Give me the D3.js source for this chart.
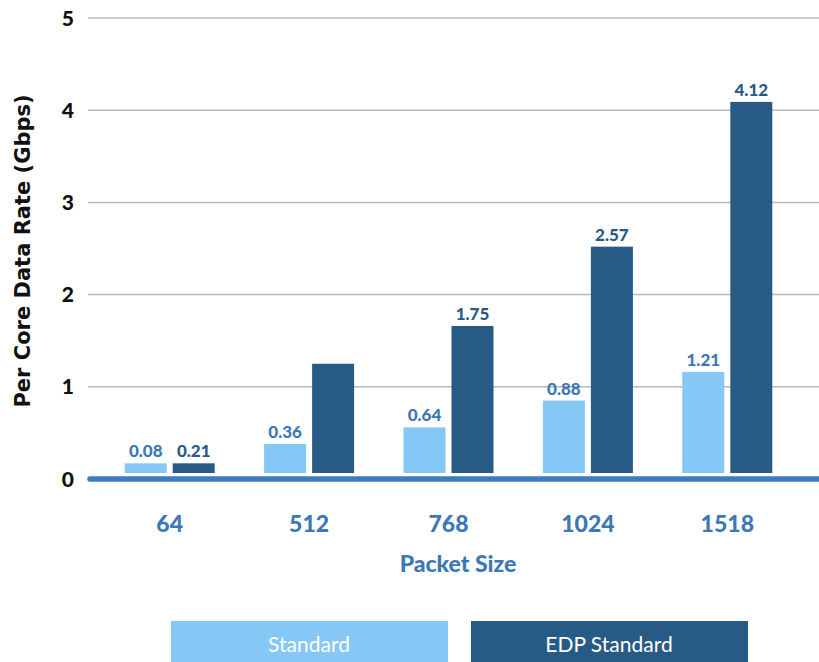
<!DOCTYPE html>
<html lang="en">
    <head>
        <meta charset="UTF-8">
        <title>Per Core Data Rate</title>
        <style>
            body { margin: 0; background: #fff; }
            svg { display: block; }
            .grid line { stroke: #b8b8b8; stroke-width: 1.5px; }
            .ytick { font-family: Lato, sans-serif; font-weight: 900; font-size: 21px; fill: #111; }
            .xtick { font-family: Lato, sans-serif; font-weight: 900; font-size: 23px; fill: #3b78b5; }
            .title { font-family: Lato, sans-serif; font-weight: 900; fill: #3b78b5; }
            .ytitle { font-family: "DejaVu Sans", sans-serif; font-weight: bold; font-size: 21px; fill: #111; }
            .val { font-family: Lato, sans-serif; font-weight: 900; font-size: 17px; }
            .legend text { font-family: Lato, sans-serif; font-size: 21px; fill: #fff; }
        </style>
    </head>
    <body>
        <script src="https://d3js.org/d3.v7.min.js"></script>
        <script>
            // data
            var packetSizes = ["64", "512", "768", "1024", "1518"];
            var seriesNames = ["Standard", "EDP Standard"];
            var standardBars = [0.17, 0.38, 0.56, 0.85, 1.16];
            var edpBars = [0.17, 1.25, 1.66, 2.52, 4.09];
            var standardLabels = ["0.08", "0.36", "0.64", "0.88", "1.21"];
            var edpLabels = ["0.21", "", "1.75", "2.57", "4.12"];
            var yTicks = [0, 1, 2, 3, 4, 5];

            var colors = { "Standard": "#85c7f5", "EDP Standard": "#285a86" };
            var labelColors = { "Standard": "#3b78b5", "EDP Standard": "#285a86" };

            var width = 819, height = 662;

            var svg = d3.select("body").append("svg")
                .attr("width", width)
                .attr("height", height);

            var y = d3.scaleLinear()
                .domain([0, 5])
                .range([479, 18]);

            var x = d3.scaleBand()
                .domain(packetSizes)
                .range([100, 797]);

            var xs = d3.scaleBand()
                .domain(seriesNames)
                .range([x.bandwidth() / 2 - 45, x.bandwidth() / 2 + 45])
                .paddingInner(0.125);

            // gridlines
            svg.append("g")
                .attr("class", "grid")
                .selectAll("line")
                .data(yTicks.filter(function(d) { return d > 0; }))
                .enter().append("line")
                .attr("x1", 88)
                .attr("x2", width)
                .attr("y1", function(d) { return y(d); })
                .attr("y2", function(d) { return y(d); });

            // y tick labels
            svg.append("g")
                .selectAll("text")
                .data(yTicks)
                .enter().append("text")
                .attr("class", "ytick")
                .attr("x", 74)
                .attr("y", function(d) { return y(d); })
                .attr("dy", "0.36em")
                .attr("text-anchor", "end")
                .text(function(d) { return d; });

            var rows = packetSizes.map(function(p, i) {
                return {
                    size: p,
                    vals: [
                        { name: "Standard", v: standardBars[i], label: standardLabels[i] },
                        { name: "EDP Standard", v: edpBars[i], label: edpLabels[i] }
                    ]
                };
            });

            var groups = svg.append("g")
                .selectAll("g")
                .data(rows)
                .enter().append("g")
                .attr("transform", function(d) { return "translate(" + x(d.size) + ",0)"; });

            groups.selectAll("rect")
                .data(function(d) { return d.vals; })
                .enter().append("rect")
                .attr("x", function(d) { return xs(d.name); })
                .attr("width", xs.bandwidth())
                .attr("y", function(d) { return y(d.v); })
                .attr("height", function(d) { return y(0) - 6 - y(d.v); })
                .attr("fill", function(d) { return colors[d.name]; });

            groups.selectAll("text")
                .data(function(d) { return d.vals; })
                .enter().append("text")
                .attr("class", "val")
                .attr("x", function(d) { return xs(d.name) + xs.bandwidth() / 2; })
                .attr("y", function(d) { return y(d.v) - 6; })
                .attr("text-anchor", "middle")
                .attr("fill", function(d) { return labelColors[d.name]; })
                .text(function(d) { return d.label; });

            // zero axis
            svg.append("line")
                .attr("x1", 90)
                .attr("x2", width + 5)
                .attr("y1", y(0))
                .attr("y2", y(0))
                .attr("stroke", "#3d7dbf")
                .attr("stroke-width", 5.5)
                .attr("stroke-linecap", "round");

            // x tick labels
            svg.append("g")
                .selectAll("text")
                .data(packetSizes)
                .enter().append("text")
                .attr("class", "xtick")
                .attr("x", function(d) { return x(d) + x.bandwidth() / 2; })
                .attr("y", 532)
                .attr("text-anchor", "middle")
                .text(function(d) { return d; });

            svg.append("text")
                .attr("class", "title")
                .attr("x", 458)
                .attr("y", 572)
                .attr("text-anchor", "middle")
                .style("font-size", "23px")
                .text("Packet Size");

            svg.append("text")
                .attr("class", "ytitle")
                .attr("transform", "translate(30,251) rotate(-90)")
                .attr("text-anchor", "middle")
                .text("Per Core Data Rate (Gbps)");

            // legend
            var legend = svg.append("g")
                .attr("class", "legend")
                .selectAll("g")
                .data(seriesNames)
                .enter().append("g")
                .attr("transform", function(d, i) { return "translate(" + (171 + i * 300) + ",621)"; });

            legend.append("rect")
                .attr("width", 277)
                .attr("height", 50)
                .attr("fill", function(d) { return colors[d]; });

            legend.append("text")
                .attr("x", 138)
                .attr("y", 31)
                .attr("text-anchor", "middle")
                .text(function(d) { return d; });
        </script>
    </body>
</html>
